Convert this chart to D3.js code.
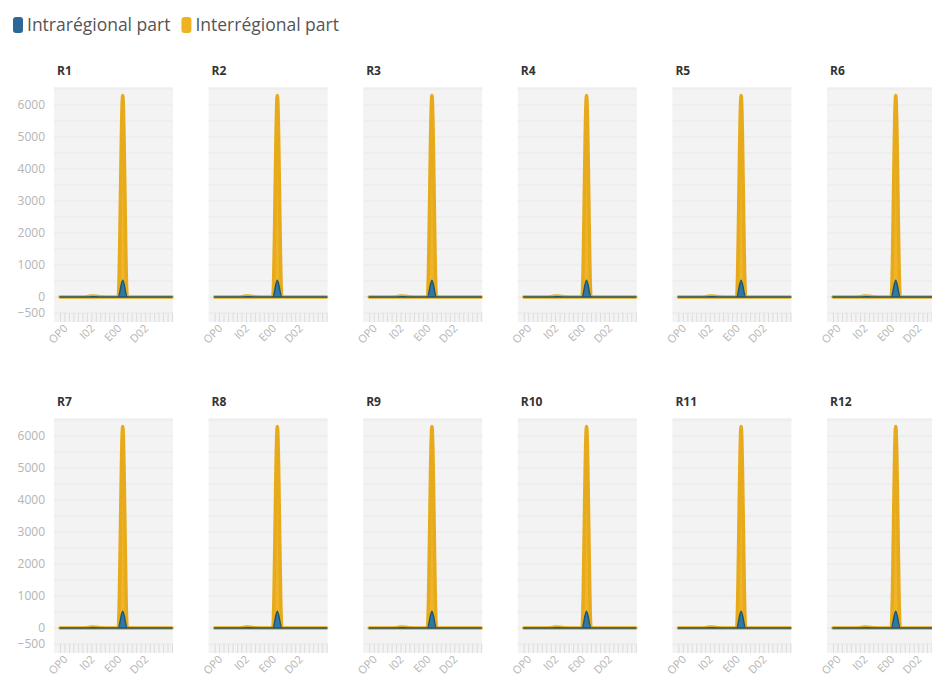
<!DOCTYPE html>
<html>
<head>
<meta charset="utf-8">
<script src="https://cdn.jsdelivr.net/npm/d3@7"></script>
<style>
  html, body { margin: 0; padding: 0; background: #fff; }
  svg { display: block; font-family: "Open Sans", sans-serif; }
</style>
</head>
<body>
<svg id="chart" width="932" height="677"></svg>
<script>
// Regions shown as small multiples
const regions = ["R1", "R2", "R3", "R4", "R5", "R6", "R7", "R8", "R9", "R10", "R11", "R12"];

// Period index along the x axis
const periods = d3.range(26);

// Labelled periods and their text
const tickPeriods = [1, 7, 13, 19];
const tickLabels = ["OP0", "I02", "E00", "D02"];

// Series values per period
const intraValues = [0, 0, 0, 0, 0, 0, 0, 5, 5, 0, 0, 0, 0, 0, 520, 0, 0, 0, 0, 0, 0, 0, 0, 0, 0, 0];
const interValues = [0, 0, 0, 0, 0, 0, 10, 30, 25, 5, 0, 0, 0, 0, 6300, 0, 0, 0, 0, 0, 0, 0, 0, 0, 0, 0];

// Y axis tick values
const yTicks = [-500, 0, 1000, 2000, 3000, 4000, 5000, 6000];
const gridValues = d3.range(-500, 6501, 500);

const series = [
  { name: "Intrarégional part", values: intraValues, fill: "#2f78a8", stroke: "#1e5670", swatch: "#2b6797" },
  { name: "Interrégional part", values: interValues, fill: "#f0b429", stroke: "#e7aa1a", swatch: "#efb321" }
];

const svg = d3.select("#chart");

// Legend
const legend = svg.append("g");
let lx = 13;
series.forEach(s => {
  legend.append("rect")
    .attr("x", lx).attr("y", 17).attr("width", 10).attr("height", 16)
    .attr("rx", 3).attr("fill", s.swatch);
  const t = legend.append("text")
    .attr("x", lx + 14).attr("y", 31)
    .attr("font-size", 17.5).attr("fill", "#555")
    .text(s.name);
  lx += 14 + t.node().getComputedTextLength() + 11;
});

// Shared panel geometry
const colStep = 154.6, rowStep = 331;
const bgX = 54, bgW = 119, bgTop = 87, bgBottom = 322;

const x = d3.scalePoint().domain(periods).range([60, 172]);
const y = d3.scaleLinear().domain([-500, 6000]).range([313, 105]);

const area = d3.area()
  .x((d, i) => x(i))
  .y0(y(0))
  .y1(d => y(d))
  .curve(d3.curveMonotoneX);

regions.forEach((r, k) => {
  const col = k % 6, row = Math.floor(k / 6);
  const g = svg.append("g")
    .attr("transform", `translate(${col * colStep},${row * rowStep})`);

  g.append("rect")
    .attr("x", bgX).attr("y", bgTop)
    .attr("width", bgW).attr("height", bgBottom - bgTop)
    .attr("fill", "#f3f3f3");

  g.selectAll("line.grid").data(gridValues).join("line")
    .attr("class", "grid")
    .attr("x1", bgX).attr("x2", bgX + bgW)
    .attr("y1", d => y(d)).attr("y2", d => y(d))
    .attr("stroke", "#e8e8e8").attr("stroke-width", 1);

  // x axis: a tick per period, labels on selected periods
  const xAxis = d3.axisBottom(x)
    .tickValues(periods)
    .tickSize(9)
    .tickFormat("");
  const ax = g.append("g")
    .attr("transform", `translate(0,${bgBottom - 9})`)
    .call(xAxis);
  ax.select(".domain").remove();
  ax.selectAll(".tick line").attr("stroke", "#dcdcdc");

  g.selectAll("text.xl").data(tickPeriods).join("text")
    .attr("class", "xl")
    .attr("text-anchor", "end")
    .attr("font-size", 11)
    .attr("fill", "#b4b4b4")
    .attr("transform", d => `translate(${x(d) + 4},${bgBottom + 7}) rotate(-45)`)
    .text((d, i) => tickLabels[i]);

  if (col === 0) {
    const yAxis = d3.axisLeft(y).tickValues(yTicks).tickSize(0).tickPadding(0)
      .tickFormat(d3.format("d"));
    const ay = g.append("g").attr("transform", "translate(45,0)").call(yAxis);
    ay.select(".domain").remove();
    ay.selectAll("text")
      .attr("font-size", 12)
      .attr("font-family", "Open Sans, sans-serif")
      .attr("fill", "#b4b4b4");
  }

  g.append("text")
    .attr("x", 57).attr("y", 75)
    .attr("font-size", 12).attr("font-weight", "bold")
    .attr("fill", "#333")
    .text(r);

  // Interregional behind, intraregional on top
  [series[1], series[0]].forEach(s => {
    g.append("path")
      .datum(s.values)
      .attr("d", area)
      .attr("fill", s.fill)
      .attr("stroke", s.stroke)
      .attr("stroke-width", s === series[1] ? 3.5 : 1.5)
      .attr("stroke-linejoin", "round");
  });
});
</script>
</body>
</html>
